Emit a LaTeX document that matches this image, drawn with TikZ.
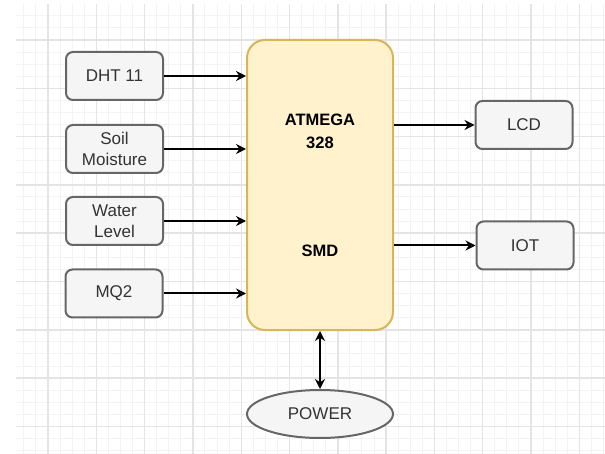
\documentclass[tikz,border=0pt]{standalone}
\usepackage{fontspec}
\setmainfont{Liberation Sans}
\usetikzlibrary{arrows.meta,shapes.geometric}
\definecolor{boxfill}{HTML}{F5F5F5}
\definecolor{boxline}{HTML}{666666}
\definecolor{boxtext}{HTML}{333333}
\definecolor{mcufill}{HTML}{FFF2CC}
\definecolor{mculine}{HTML}{D6B656}
\definecolor{finegrid}{HTML}{F3F3F3}
\definecolor{majorgrid}{HTML}{E4E4E4}
\tikzset{
  sensor/.style={rectangle, rounded corners=7pt, draw=boxline, fill=boxfill,
    line width=2pt, minimum width=97pt, minimum height=48pt, text=boxtext,
    align=center, inner sep=0pt, font=\fontsize{17}{21}\selectfont},
  mcu/.style={rectangle, rounded corners=18pt, draw=mculine, fill=mcufill,
    line width=2pt, minimum width=146pt, minimum height=290pt, inner sep=0pt},
  mcutext/.style={align=center, inner sep=0pt, text=black,
    font=\bfseries\fontsize{16.5}{23}\selectfont},
  powernode/.style={ellipse, draw=boxline, fill=boxfill, line width=2pt,
    minimum width=146pt, minimum height=48pt, inner sep=0pt, text=boxtext,
    font=\fontsize{17}{20}\selectfont},
  arr/.style={line width=2pt, -{Stealth[open, length=10pt, width=10pt]}},
  biarr/.style={line width=2pt, {Stealth[length=10pt, width=10pt]}-{Stealth[length=10pt, width=10pt]}},
  fineline/.style={draw=finegrid, line width=1pt},
  majorline/.style={draw=majorgrid, line width=1.4pt}
}
\begin{document}
\begin{tikzpicture}[x=1pt, y=-1pt]
\useasboundingbox[fill=white] (0,0) rectangle (605,454);
% grid
\begin{scope}
\clip (16,5) rectangle (605,454);
\foreach \i in {-3,...,48} \draw[fineline] ({48+12.075*\i},0) -- ++(0,460);
\foreach \i in {-3,...,38} \draw[fineline] (0,{40+12.075*\i}) -- ++(610,0);
\foreach \i in {-1,...,12} \draw[majorline] ({48+48.3*\i},0) -- ++(0,460);
\foreach \i in {-1,...,9} \draw[majorline] (0,{40+48.3*\i}) -- ++(610,0);
\end{scope}
% nodes
\node[mcu] (main) at (320,185) {};
\node[mcutext] (atm) at (320,131) {ATMEGA\\328};
\node[mcutext] (smd) at (320,251) {SMD};
\node[sensor] (dht) at (114.5,76) {DHT 11};
\node[sensor] (soil) at (114.5,149) {Soil\\Moisture};
\node[sensor] (water) at (114.5,221) {Water\\Level};
\node[sensor] (mq) at (114,293.5) {MQ2};
\node[sensor] (lcd) at (524,125) {LCD};
\node[sensor] (iot) at (525,245.5) {IOT};
\node[powernode] (power) at (320,414) {POWER};
% connectors
\draw[arr] (dht.east) -- (dht.east -| main.west);
\draw[arr] (soil.east) -- (soil.east -| main.west);
\draw[arr] (water.east) -- (water.east -| main.west);
\draw[arr] (mq.east) -- (mq.east -| main.west);
\draw[arr] (main.east |- lcd.west) -- (lcd.west);
\draw[arr] (main.east |- iot.west) -- (iot.west);
\draw[biarr] (main.south) -- (power.north);
\end{tikzpicture}
\end{document}
